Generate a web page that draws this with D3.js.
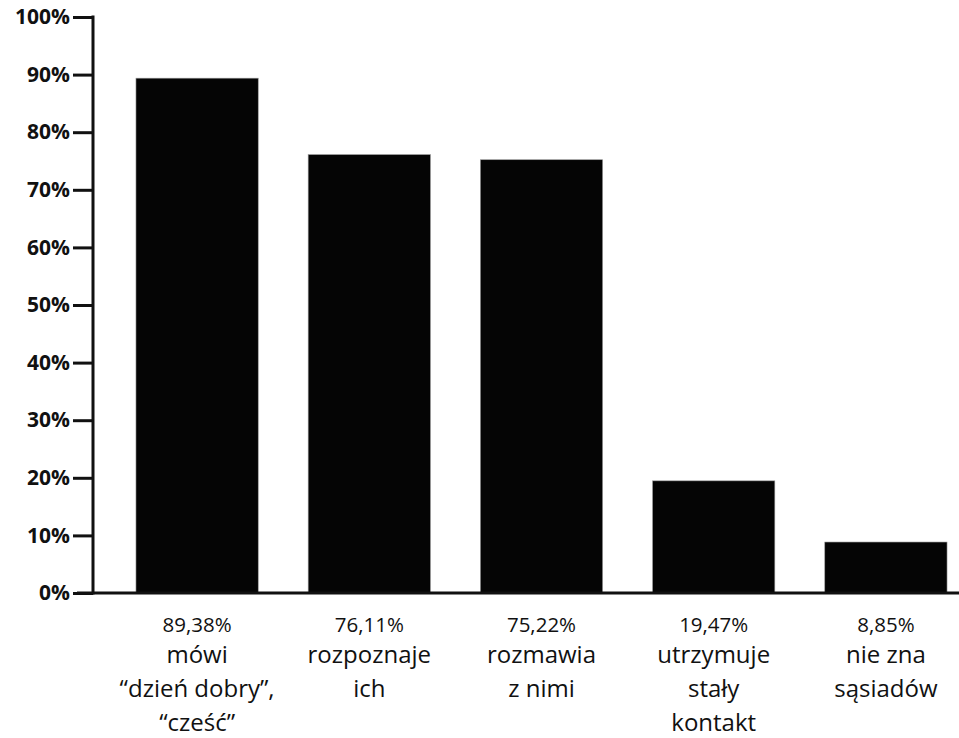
<!DOCTYPE html>
<html>
<head>
<meta charset="utf-8">
<script src="https://cdn.jsdelivr.net/npm/d3@7"></script>
<style>
  body { margin: 0; background: #fff; }
</style>
</head>
<body>
<div id="chart"></div>
<script>
// data
const categories = ["mowi", "rozpoznaje", "rozmawia", "utrzymuje", "nie zna"];
const values = [89.38, 76.11, 75.22, 19.47, 8.85];
const valueLabels = ["89,38%", "76,11%", "75,22%", "19,47%", "8,85%"];
const categoryLines = [
    ["mówi", "\u201Cdzień dobry\u201D,", "\u201Ccześć\u201D"],
    ["rozpoznaje", "ich"],
    ["rozmawia", "z nimi"],
    ["utrzymuje", "stały", "kontakt"],
    ["nie zna", "sąsiadów"]
];
const yTicks = [0, 10, 20, 30, 40, 50, 60, 70, 80, 90, 100];

function drawChart() {
    const width = 959, height = 738;

    let svg = d3.select("#chart")
        .append("svg")
        .attr("width", width)
        .attr("height", height);

    let x = d3.scaleBand()
        .domain(categories)
        .range([111, 972])
        .paddingInner(0.29)
        .paddingOuter(0.145);

    let y = d3.scaleLinear()
        .domain([0, 100])
        .range([593, 17]);

    // bars
    svg.append("g")
        .selectAll("rect")
        .data(values)
        .enter()
        .append("rect")
        .attr("x", (d, i) => x(categories[i]))
        .attr("width", x.bandwidth())
        .attr("y", d => y(d))
        .attr("height", d => y(0) - y(d))
        .attr("fill", "#050505")
        .attr("stroke", "#999")
        .attr("stroke-width", 0.6);

    // y axis
    let yAxis = svg.append("g")
        .attr("transform", "translate(93,0)")
        .call(d3.axisLeft(y).tickValues(yTicks).tickSize(20).tickPadding(3).tickFormat(d => d + "%"));
    yAxis.select(".domain").remove();
    yAxis.selectAll(".tick line").attr("stroke", "#111").attr("stroke-width", 3);
    yAxis.selectAll(".tick text")
        .attr("font-family", "'Open Sans', sans-serif")
        .attr("font-weight", "bold")
        .attr("font-size", 21)
        .attr("fill", "#111");
    svg.append("line")
        .attr("x1", 93).attr("x2", 93)
        .attr("y1", y(100) - 1.5).attr("y2", y(0) + 1.5)
        .attr("stroke", "#111").attr("stroke-width", 3);

    // x axis baseline
    svg.append("line")
        .attr("x1", 77).attr("x2", width)
        .attr("y1", y(0)).attr("y2", y(0))
        .attr("stroke", "#111").attr("stroke-width", 3);

    // labels under the bars
    let labels = svg.append("g")
        .selectAll("text")
        .data(categories)
        .enter()
        .append("text")
        .attr("text-anchor", "middle")
        .attr("font-family", "'Open Sans', sans-serif")
        .attr("fill", "#111");

    labels.each(function (d, i) {
        let cx = x(d) + x.bandwidth() / 2;
        let t = d3.select(this);
        t.append("tspan")
            .attr("x", cx)
            .attr("y", 632)
            .attr("font-size", 20.5)
            .text(valueLabels[i]);
        categoryLines[i].forEach(function (line, j) {
            t.append("tspan")
                .attr("x", cx)
                .attr("y", 662.5 + j * 34)
                .attr("font-size", 24)
                .text(line);
        });
    });
}
drawChart();
</script>
</body>
</html>
